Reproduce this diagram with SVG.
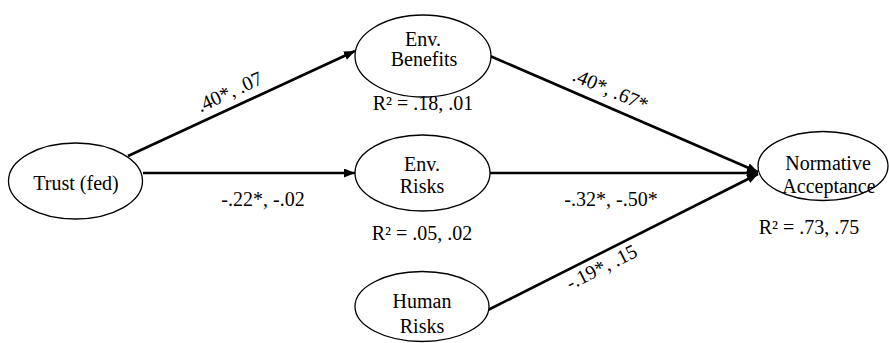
<svg xmlns="http://www.w3.org/2000/svg" width="889" height="343" viewBox="0 0 889 343">
<style>
  .node ellipse { fill: #ffffff; stroke: #000000; stroke-width: 1.3; }
  .edge { stroke: #000000; stroke-width: 2.6; fill: none; marker-end: url(#arrow); }
  .t { font-family: "Liberation Serif", "Times New Roman", serif; font-size: 20px; fill: #000000; text-anchor: middle; }
</style>
<defs>
  <marker id="arrow" markerUnits="userSpaceOnUse" markerWidth="12" markerHeight="10" refX="11" refY="4.5" orient="auto">
    <path d="M0,0 L11,4.5 L0,9 z" fill="#000000"/>
  </marker>
</defs>
<rect x="0" y="0" width="889" height="343" fill="#ffffff"/>
<g id="connectors">
  <line class="edge" x1="128" y1="156" x2="355" y2="51"/>
  <line class="edge" x1="143" y1="173" x2="355" y2="173"/>
  <line class="edge" x1="490" y1="56" x2="758" y2="172"/>
  <line class="edge" x1="490" y1="173" x2="758" y2="173"/>
  <line class="edge" x1="488" y1="310" x2="758" y2="174"/>
  <g transform="translate(236,106) rotate(-24.8)"><text class="t" x="0" y="-9">.40*, .07</text></g>
  <text class="t" x="263" y="206">-.22*, -.02</text>
  <g transform="translate(604,105) rotate(23.3)"><text class="t" x="0" y="-10">.40*, .67*</text></g>
  <text class="t" x="611" y="206">-.32*, -.50*</text>
  <g transform="translate(596,256) rotate(-26.6)"><text class="t" x="0" y="19">-.19*, .15</text></g>
</g>
<g id="trust" class="node">
  <ellipse cx="75.5" cy="181" rx="67" ry="38"/>
  <text class="t" x="76" y="190">Trust (fed)</text>
</g>
<g id="benefits" class="node">
  <ellipse cx="423" cy="56" rx="68" ry="41"/>
  <text class="t" x="423" y="46">Env.</text>
  <text class="t" x="424" y="66">Benefits</text>
  <text class="t" x="423" y="110">R² = .18, .01</text>
</g>
<g id="envrisks" class="node">
  <ellipse cx="422.5" cy="173" rx="67.5" ry="38"/>
  <text class="t" x="422" y="171">Env.</text>
  <text class="t" x="422" y="193">Risks</text>
  <text class="t" x="422" y="240">R² = .05, .02</text>
</g>
<g id="humanrisks" class="node">
  <ellipse cx="422" cy="306.5" rx="67" ry="35"/>
  <text class="t" x="422" y="308">Human</text>
  <text class="t" x="422" y="333">Risks</text>
</g>
<g id="normative" class="node">
  <ellipse cx="823" cy="166" rx="65" ry="34.5"/>
  <text class="t" x="828" y="170">Normative</text>
  <text class="t" x="829" y="193">Acceptance</text>
  <text class="t" x="809" y="234">R² = .73, .75</text>
</g>
</svg>
